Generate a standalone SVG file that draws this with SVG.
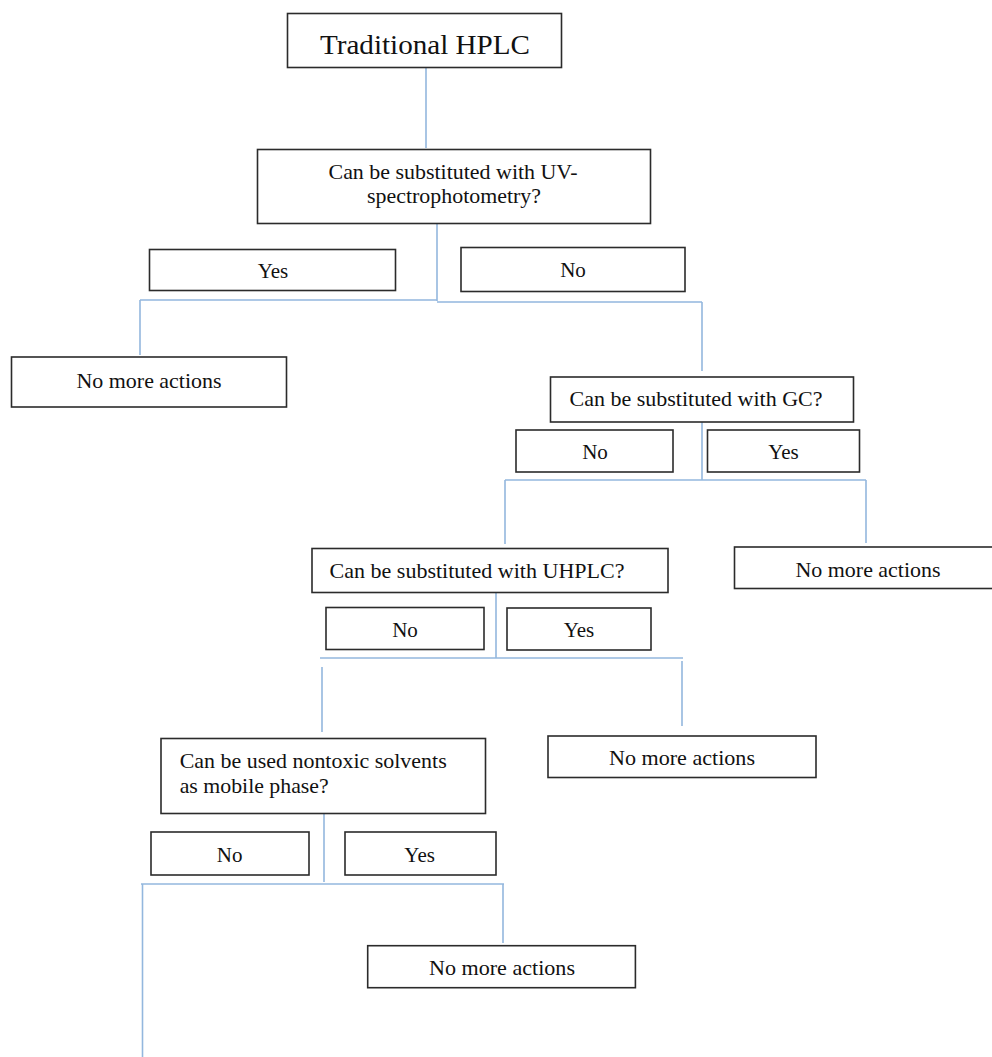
<svg xmlns="http://www.w3.org/2000/svg" width="992" height="1057" viewBox="0 0 992 1057">
<style>
.box{fill:#fff;stroke:#2b2b2b;stroke-width:1.6}
.t{font-family:"Liberation Serif","Times New Roman",serif;font-size:21px;fill:#111;text-anchor:middle}
.tl{font-family:"Liberation Serif","Times New Roman",serif;font-size:21px;fill:#111}
.c{fill:none;stroke:#93b7de;stroke-width:1.6}
</style>
<rect width="992" height="1057" fill="#fff"/>
<g id="connectors">
<path class="c" d="M426 68 V148"/>
<path class="c" d="M437 224 V301"/>
<path class="c" d="M140 300 H437 M437 302 H702"/>
<path class="c" d="M140 300 V355"/>
<path class="c" d="M702 302 V371"/>
<path class="c" d="M702 422 V480"/>
<path class="c" d="M505 480 H866"/>
<path class="c" d="M505 480 V544"/>
<path class="c" d="M866 480 V543"/>
<path class="c" d="M496 593 V658"/>
<path class="c" d="M320 658 H683"/>
<path class="c" d="M322 667 V732"/>
<path class="c" d="M682 661 V726"/>
<path class="c" d="M324 814 V882"/>
<path class="c" d="M141 884 H504"/>
<path class="c" d="M142.5 884 V1057"/>
<path class="c" d="M503 884 V943"/>
</g>
<g id="n1"><rect class="box" x="287.5" y="13.5" width="274" height="54"/><text class="t" x="425" y="54" style="font-size:28px" textLength="210" lengthAdjust="spacingAndGlyphs">Traditional HPLC</text></g>
<g id="n2"><rect class="box" x="257.5" y="149.5" width="393" height="74"/><text class="t" x="453" y="179" textLength="249" lengthAdjust="spacingAndGlyphs">Can be substituted with UV-</text><text class="t" x="454" y="203" textLength="174" lengthAdjust="spacingAndGlyphs">spectrophotometry?</text></g>
<g id="n3"><rect class="box" x="149.5" y="249.5" width="246" height="41"/><text class="t" x="273" y="278">Yes</text></g>
<g id="n4"><rect class="box" x="461" y="247.5" width="224" height="44"/><text class="t" x="573" y="277">No</text></g>
<g id="n5"><rect class="box" x="11.5" y="357" width="275" height="50"/><text class="t" x="149" y="388" textLength="145" lengthAdjust="spacingAndGlyphs">No more actions</text></g>
<g id="n6"><rect class="box" x="550.5" y="377" width="303" height="45"/><text class="t" x="696" y="406" textLength="253" lengthAdjust="spacingAndGlyphs">Can be substituted with GC?</text></g>
<g id="n7"><rect class="box" x="516" y="430" width="157" height="42"/><text class="t" x="595" y="459">No</text></g>
<g id="n8"><rect class="box" x="707.5" y="430" width="152" height="42"/><text class="t" x="783.5" y="459">Yes</text></g>
<g id="n9"><rect class="box" x="312" y="548.5" width="356" height="44"/><text class="t" x="477" y="578" textLength="295" lengthAdjust="spacingAndGlyphs">Can be substituted with UHPLC?</text></g>
<g id="n10"><rect class="box" x="734.5" y="547" width="260" height="41.5"/><text class="t" x="868" y="577" textLength="145" lengthAdjust="spacingAndGlyphs">No more actions</text></g>
<g id="n11"><rect class="box" x="326" y="607.5" width="158" height="42"/><text class="t" x="405" y="637">No</text></g>
<g id="n12"><rect class="box" x="507" y="608" width="144" height="42"/><text class="t" x="579" y="637">Yes</text></g>
<g id="n13"><rect class="box" x="161" y="738.5" width="324.5" height="75"/><text class="tl" x="179.7" y="768" textLength="267" lengthAdjust="spacingAndGlyphs">Can be used nontoxic solvents</text><text class="tl" x="179.7" y="793" textLength="149" lengthAdjust="spacingAndGlyphs">as mobile phase?</text></g>
<g id="n14"><rect class="box" x="548" y="736" width="268" height="41.5"/><text class="t" x="682" y="765" textLength="146" lengthAdjust="spacingAndGlyphs">No more actions</text></g>
<g id="n15"><rect class="box" x="151" y="832" width="158" height="43"/><text class="t" x="229.7" y="862">No</text></g>
<g id="n16"><rect class="box" x="345" y="832" width="151" height="43"/><text class="t" x="419.6" y="862">Yes</text></g>
<g id="n17"><rect class="box" x="367.7" y="945.7" width="267.7" height="42"/><text class="t" x="502" y="975" textLength="146" lengthAdjust="spacingAndGlyphs">No more actions</text></g>
</svg>
